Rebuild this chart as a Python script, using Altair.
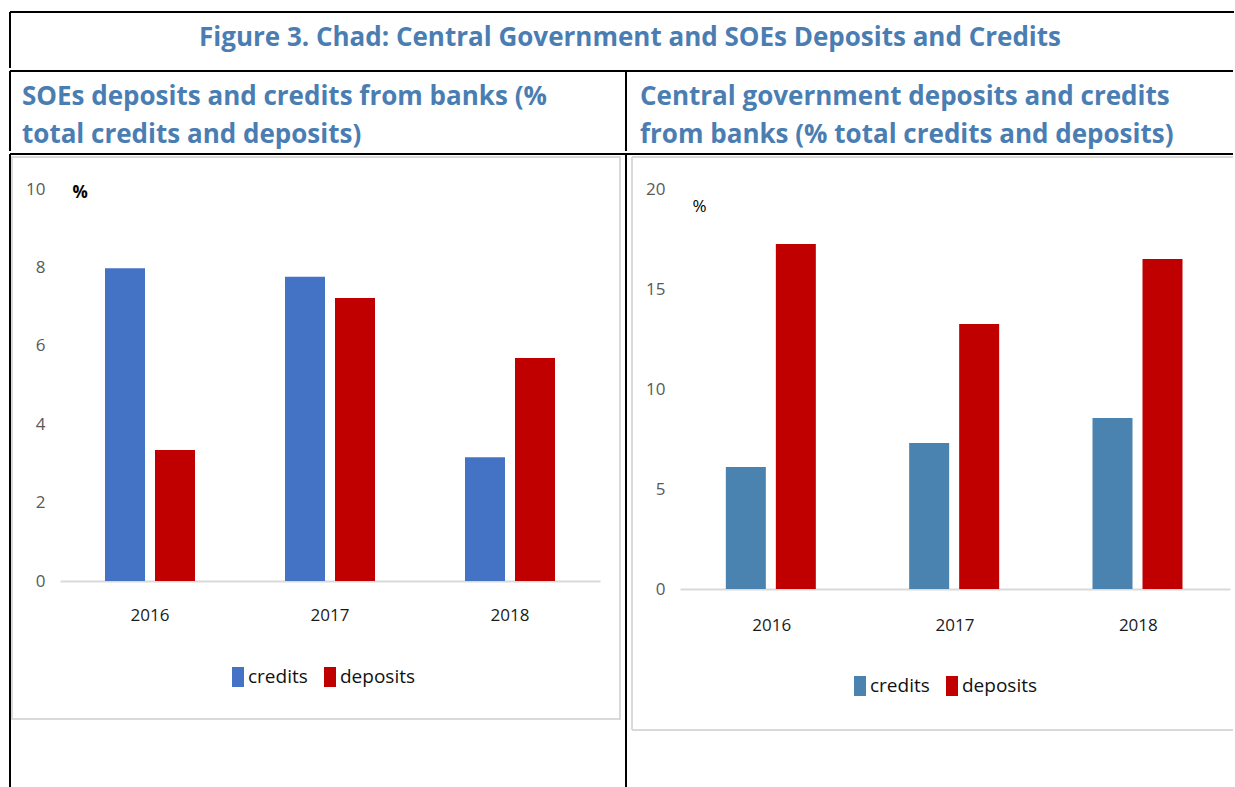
import altair as alt
import pandas as pd

# ---------------- data ----------------
years = ["2016", "2017", "2018"]
series = ["credits", "deposits"]
soe_credits = [7.98, 7.76, 3.16]
soe_deposits = [3.34, 7.22, 5.69]
cg_credits = [6.1, 7.3, 8.55]
cg_deposits = [17.25, 13.25, 16.5]

left_ticks = [0, 2, 4, 6, 8, 10]
right_ticks = [0, 5, 10, 15, 20]

main_title = "Figure 3. Chad: Central Government and SOEs Deposits and Credits"
left_title = "SOEs deposits and credits from banks (%\ntotal credits and deposits)"
right_title = "Central government deposits and credits\nfrom banks (% total credits and deposits)"

# ---------------- styles ----------------
LFONT = "Open Sans"
TFONT = "Open Sans"
TSIZE = 26
TBLUE = "#4A7EB3"
RED = "#C00000"
BLUE_L = "#4472C4"
BLUE_R = "#4A82B0"
GREY = "#D9D9D9"
LEG_PATH = "M-0.6,-1L0.6,-1L0.6,1L-0.6,1Z"

deco = pd.DataFrame({"k": [0]})


def rule(x, y, x2=None, y2=None, color="black", width=2):
    enc = dict(x=alt.value(x), y=alt.value(y))
    if x2 is not None:
        enc["x2"] = alt.value(x2)
    if y2 is not None:
        enc["y2"] = alt.value(y2)
    return alt.Chart(deco).mark_rule(color=color, strokeWidth=width, strokeCap="butt").encode(**enc)


def text_block(txt, x, y, size, align="left"):
    d = pd.DataFrame({"t": [txt]})
    return alt.Chart(d).mark_text(
        font=TFONT, fontSize=size, fontWeight="bold", color=TBLUE,
        align=align, baseline="top", lineBreak="\n", lineHeight=38
    ).encode(x=alt.value(x), y=alt.value(y), text="t:N")


def long_df(a, b):
    rows = []
    for i, yr in enumerate(years):
        rows.append({"year": yr, "series": series[0], "value": a[i]})
        rows.append({"year": yr, "series": series[1], "value": b[i]})
    return pd.DataFrame(rows)


def bar_chart(df, domain_max, ticks, colors, w, h, pct_x, pct_y, pct_bold, leg_x, leg_y, lab_pad):
    return alt.Chart(df).mark_bar().encode(
        x=alt.X("year:N", title=None,
                scale=alt.Scale(paddingInner=0.5, paddingOuter=0.25),
                axis=alt.Axis(labelAngle=0, ticks=False, domainColor=GREY, domainWidth=2,
                              labelFont=LFONT, labelFontSize=17, labelColor="#1A1A1A",
                              labelPadding=lab_pad, grid=False)),
        xOffset=alt.XOffset("series:N", sort=series,
                            scale=alt.Scale(paddingInner=0.2, paddingOuter=0)),
        y=alt.Y("value:Q",
                scale=alt.Scale(domain=[0, domain_max], nice=False),
                axis=alt.Axis(values=ticks, domain=False, ticks=False, grid=False,
                              labelFont=LFONT, labelFontSize=17, labelColor="#595959",
                              labelPadding=15,
                              title="%", titleAngle=0, titleX=pct_x, titleY=pct_y,
                              titleAlign="left", titleBaseline="middle",
                              titleFont=LFONT, titleFontSize=17,
                              titleFontWeight="bold" if pct_bold else "normal",
                              titleColor="black")),
        color=alt.Color("series:N",
                        scale=alt.Scale(domain=series, range=colors),
                        legend=alt.Legend(title=None, orient="none", direction="horizontal",
                                          legendX=leg_x, legendY=leg_y,
                                          symbolType=LEG_PATH, symbolSize=400,
                                          symbolStrokeWidth=0, labelOffset=0,
                                          columnPadding=12,
                                          labelFont=LFONT, labelFontSize=19,
                                          labelColor="#111111")),
    ).properties(width=w, height=h)


# ---------------- header row (origin at x=60) ----------------
header = alt.layer(
    rule(-50, 0, x2=1174),
    rule(-50, 0, y2=56),
    text_block(main_title, 570, 13, TSIZE, align="center"),
).properties(width=1175, height=58)

# ---------------- subtitle row ----------------
subL = alt.layer(
    rule(-50, 0, x2=566),
    rule(-50, 0, y2=80),
    text_block(left_title, -38, 13, TSIZE),
).properties(width=566, height=82)

subR = alt.layer(
    rule(0, 0, x2=607),
    rule(0, 0, y2=80),
    text_block(right_title, 14, 13, TSIZE),
).properties(width=609, height=82)

row2 = alt.hconcat(subL, subR, spacing=0, bounds="flush")

# ---------------- chart row ----------------
barsL = bar_chart(long_df(soe_credits, soe_deposits), 10, left_ticks, [BLUE_L, RED],
                  540, 392, 12, 3, True, 168, 478, 26)
chartL = alt.layer(
    rule(-50, -35, x2=566),
    rule(-50, -35, y2=598),
    alt.Chart(deco).mark_rect(fillOpacity=0, stroke=GREY, strokeWidth=2).encode(
        x=alt.value(-48), x2=alt.value(560), y=alt.value(-32), y2=alt.value(530)),
    barsL,
).properties(width=540, height=392)

barsR = bar_chart(long_df(cg_credits, cg_deposits), 20, right_ticks, [BLUE_R, RED],
                  550, 400, 12, 17, False, 170, 487, 28)
chartR = alt.layer(
    rule(-54, -35, x2=553),
    rule(-54, -35, y2=598),
    rule(-48, -32, x2=553, color=GREY),
    rule(-48, 541, x2=553, color=GREY),
    rule(-48, -32, y2=541, color=GREY),
    barsR,
).properties(width=550, height=400)

row3 = alt.hconcat(chartL, chartR, spacing=80, bounds="flush").resolve_scale(color="independent")

chart = alt.vconcat(header, row2, row3, spacing=0).properties(
    padding={"left": 9, "top": 11, "right": 0, "bottom": 0}
).configure_view(stroke=None)

chart.save("out.html", embed_options={"renderer": "svg", "actions": False})
